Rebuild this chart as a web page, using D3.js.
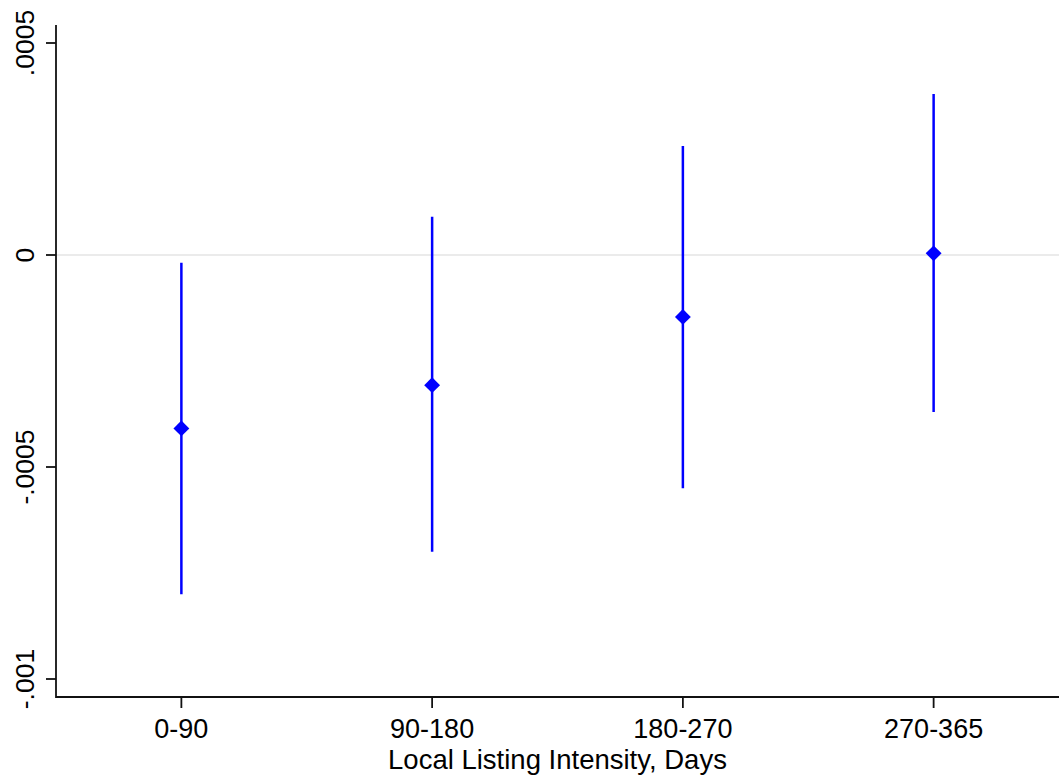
<!DOCTYPE html>
<html>
<head>
<meta charset="utf-8">
<script src="https://cdn.jsdelivr.net/npm/d3@7"></script>
<style>
  body { margin: 0; background: #fff; }
  svg { display: block; font-family: "Liberation Sans", Arial, sans-serif; }
</style>
</head>
<body>
<div id="chart"></div>
<script>
// data
var categories = ["0-90", "90-180", "180-270", "270-365"];
var estimates  = [-0.000409, -0.000307, -0.000146, 0.000004];
var ciLow      = [-0.000800, -0.000700, -0.000550, -0.000370];
var ciHigh     = [-0.000018, 0.000090, 0.000257, 0.000380];
var yTicks     = [0.0005, 0, -0.0005, -0.001];
var yTickLabels = [".0005", "0", "-.0005", "-.001"];

var width = 1061, height = 783;
var margin = {top: 25, right: 2, bottom: 86, left: 56};

var svg = d3.select("#chart").append("svg")
    .attr("width", width)
    .attr("height", height);

var x = d3.scaleLinear()
    .domain([0.5, categories.length + 0.5])
    .range([margin.left, width - margin.right]);

var y = d3.scaleLinear()
    .domain([-0.001, 0.0005])
    .range([679, 43]);

var plotBottom = height - margin.bottom;

// zero reference line
svg.append("line")
    .attr("x1", margin.left).attr("x2", width - margin.right)
    .attr("y1", y(0)).attr("y2", y(0))
    .style("stroke", "#e4e4e4")
    .style("stroke-width", 1.5);

// y axis
var yAxis = svg.append("g")
    .attr("transform", "translate(" + margin.left + ",0)");
yAxis.append("line")
    .attr("x1", 0).attr("x2", 0)
    .attr("y1", margin.top).attr("y2", plotBottom + 1)
    .style("stroke", "#111").style("stroke-width", 1.8);
yAxis.selectAll(".tick")
    .data(yTicks)
  .enter().append("line")
    .attr("x1", -10).attr("x2", 0)
    .attr("y1", function(d) { return y(d); })
    .attr("y2", function(d) { return y(d); })
    .style("stroke", "#111").style("stroke-width", 1.8);
yAxis.selectAll(".lbl")
    .data(yTicks)
  .enter().append("text")
    .attr("transform", function(d) { return "translate(-31," + y(d) + ") rotate(-90)"; })
    .attr("text-anchor", "middle")
    .attr("dy", "0.35em")
    .style("font-size", "26.5px")
    .text(function(d, i) { return yTickLabels[i]; });

// x axis
var xAxis = svg.append("g")
    .attr("transform", "translate(0," + plotBottom + ")");
xAxis.append("line")
    .attr("x1", margin.left).attr("x2", width - margin.right)
    .attr("y1", 0).attr("y2", 0)
    .style("stroke", "#111").style("stroke-width", 1.8);
xAxis.selectAll(".tick")
    .data(categories)
  .enter().append("line")
    .attr("x1", function(d, i) { return x(i + 1); })
    .attr("x2", function(d, i) { return x(i + 1); })
    .attr("y1", 0).attr("y2", 11)
    .style("stroke", "#111").style("stroke-width", 1.8);
xAxis.selectAll(".lbl")
    .data(categories)
  .enter().append("text")
    .attr("x", function(d, i) { return x(i + 1); })
    .attr("y", 41)
    .attr("text-anchor", "middle")
    .style("font-size", "27px")
    .text(function(d) { return d; });

svg.append("text")
    .attr("x", (margin.left + width - margin.right) / 2)
    .attr("y", 769)
    .attr("text-anchor", "middle")
    .style("font-size", "27.5px")
    .text("Local Listing Intensity, Days");

// confidence intervals
svg.append("g").selectAll("line")
    .data(categories)
  .enter().append("line")
    .attr("x1", function(d, i) { return x(i + 1); })
    .attr("x2", function(d, i) { return x(i + 1); })
    .attr("y1", function(d, i) { return y(ciHigh[i]); })
    .attr("y2", function(d, i) { return y(ciLow[i]); })
    .style("stroke", "#0000ff")
    .style("stroke-width", 2.5);

// point estimates
var diamond = d3.symbol().type(d3.symbolDiamond2).size(160);
svg.append("g").selectAll("path")
    .data(categories)
  .enter().append("path")
    .attr("d", diamond)
    .attr("transform", function(d, i) { return "translate(" + x(i + 1) + "," + y(estimates[i]) + ")"; })
    .style("fill", "#0000ff");
</script>
</body>
</html>
